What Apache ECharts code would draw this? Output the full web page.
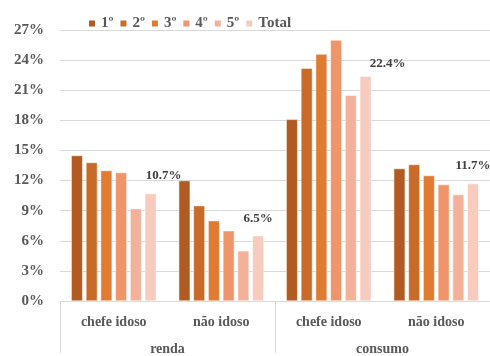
<!DOCTYPE html>
<html>
<head>
<meta charset="utf-8">
<script src="https://cdn.jsdelivr.net/npm/echarts@6/dist/echarts.min.js"></script>
<style>
  html, body { margin: 0; padding: 0; background: #fff; }
  #chart { width: 490px; height: 356px; }
</style>
</head>
<body>
<div id="chart"></div>
<script>
// Inner categories (household head) and outer groups (income / consumption)
const categories = ['chefe idoso', 'não idoso', 'chefe idoso', 'não idoso'];
const groups = ['renda', 'consumo'];
const seriesNames = ['1º', '2º', '3º', '4º', '5º', 'Total'];

// Shares (%) per quintile and total
const q1 = [14.5, 12.0, 18.1, 13.2];
const q2 = [13.8, 9.5, 23.2, 13.6];
const q3 = [13.0, 8.0, 24.6, 12.5];
const q4 = [12.8, 7.0, 26.0, 11.6];
const q5 = [9.2, 5.0, 20.5, 10.6];
const total = [10.7, 6.5, 22.4, 11.7];

const yTicks = [0, 3, 6, 9, 12, 15, 18, 21, 24, 27];

const colors = ['#B15B22', '#C96A28', '#E17B31', '#F0956A', '#F4B19A', '#F7CBBE'];
const serif = '"Liberation Serif", "DejaVu Serif", serif';

const values = [q1, q2, q3, q4, q5, total];
// label nudges for the Total series
const totalLabelOffsets = [[13, 0], [0, 0], [22, 5], [0, 0]];

const series = values.map((vals, i) => {
  const s = {
    name: seriesNames[i],
    type: 'bar',
    xAxisIndex: 0,
    barWidth: 11.5,
    barGap: '28%',
    itemStyle: { color: colors[i], borderColor: '#ffffff', borderWidth: 0.5 },
    data: vals.map(v => ({ value: v }))
  };
  if (seriesNames[i] === 'Total') {
    s.data = vals.map((v, k) => ({
      value: v,
      label: { offset: totalLabelOffsets[k] }
    }));
    s.label = {
      show: true,
      position: 'top',
      distance: 11,
      formatter: p => p.value.toFixed(1) + '%',
      fontFamily: serif,
      fontWeight: 'bold',
      fontSize: 13,
      color: '#404040'
    };
  }
  return s;
});

const chart = echarts.init(document.getElementById('chart'), null, { renderer: 'canvas' });
chart.setOption({
  animation: false,
  backgroundColor: '#ffffff',
  color: colors,
  legend: {
    data: seriesNames,
    left: 82,
    top: 11,
    itemWidth: 8,
    itemHeight: 8,
    itemGap: 5,
    icon: 'rect',
    textStyle: { fontFamily: serif, fontWeight: 'bold', fontSize: 15, color: '#595959' }
  },
  grid: { left: 60, top: 30, width: 434, height: 276, containLabel: false },
  xAxis: [
    {
      type: 'category',
      data: categories,
      axisLine: { show: true, lineStyle: { color: '#D9D9D9', width: 1 } },
      axisTick: { show: false },
      axisLabel: {
        margin: 14,
        fontFamily: serif, fontWeight: 'bold', fontSize: 14, color: '#595959'
      }
    },
    {
      type: 'category',
      position: 'bottom',
      data: groups,
      axisLine: { show: false },
      axisTick: { show: true, length: 52, lineStyle: { color: '#D9D9D9', width: 1 } },
      axisLabel: {
        margin: 41,
        fontFamily: serif, fontWeight: 'bold', fontSize: 14, color: '#595959'
      },
      splitLine: { show: false }
    }
  ],
  yAxis: {
    type: 'value',
    min: yTicks[0],
    max: yTicks[yTicks.length - 1],
    interval: 3,
    axisLine: { show: false },
    axisTick: { show: false },
    splitLine: { lineStyle: { color: '#D9D9D9', width: 1 } },
    axisLabel: {
      margin: 16,
      formatter: v => v + '%',
      fontFamily: serif, fontWeight: 'bold', fontSize: 15, color: '#595959'
    }
  },
  series: series
});
</script>
</body>
</html>
